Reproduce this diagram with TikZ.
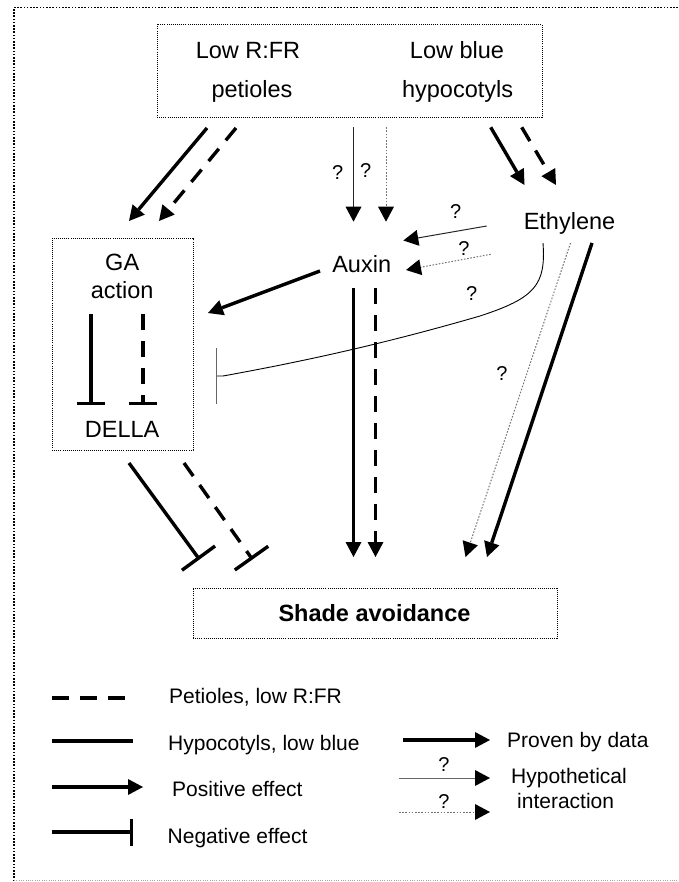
\documentclass[tikz,border=0pt]{standalone}
\usepackage{fontspec}
\setmainfont{Liberation Sans}
\usetikzlibrary{arrows.meta}
\tikzset{
  lbl/.style={inner sep=0pt, anchor=base, font=\fontsize{23.5}{28}\selectfont},
  lgd/.style={inner sep=0pt, anchor=base west, font=\fontsize{21}{25}\selectfont},
  qm/.style={inner sep=0pt, anchor=base, font=\fontsize{20}{24}\selectfont},
  dotbox/.style={draw, line width=0.9pt, dash pattern=on 0.9pt off 1.2pt},
  strong/.style={line width=3.4pt},
  dsh/.style={dash pattern=on 16pt off 11pt},
  hypline/.style={line width=1pt, draw=black!85},
  hypdot/.style={line width=1pt, draw=black!55, dash pattern=on 1.6pt off 1.6pt},
  posarrow/.style={-{Triangle[length=15pt,width=16pt,line width=0pt,color=black]}},
  negbig/.style={-{Bar[width=41pt]}},
  negsmall/.style={-{Bar[width=28pt]}},
}
\begin{document}
\begin{tikzpicture}[x=1pt,y=-1pt]
\useasboundingbox (0,0) rectangle (678,882);
% outer frame
\draw[line width=1.6pt, dash pattern=on 1.6pt off 1.6pt] (678,7.5) -- (14,7.5) -- (14,880);
\draw[line width=1pt, draw=black!35, dash pattern=on 1pt off 1.3pt] (14,880) -- (678,880);

% boxes
\node[dotbox, minimum width=385pt, minimum height=93pt, inner sep=0pt] (top) at (349.5,70.7) {};
\node[dotbox, minimum width=141pt, minimum height=212pt, inner sep=0pt] (gabox) at (122.5,344) {};
\node[dotbox, minimum width=364pt, minimum height=50pt, inner sep=0pt] (shbox) at (375,613) {};

% texts
\node[lbl] (lrfr) at (248,58.5) {Low R:FR};
\node[lbl] (pet) at (252,98) {petioles};
\node[lbl] (lblue) at (457,58.5) {Low blue};
\node[lbl] (hypo) at (457.6,98) {hypocotyls};
\node[lbl] (eth) at (569.5,230) {Ethylene};
\node[lbl] (aux) at (361.7,272.5) {Auxin};
\node[lbl] (ga) at (122.2,271) {GA};
\node[lbl] (act) at (122.2,298.5) {action};
\node[lbl] (della) at (122.2,437.5) {DELLA};
\node[lbl, font=\fontsize{23.5}{28}\selectfont\bfseries] (shade) at (374.5,621.5) {Shade avoidance};

% question marks
\node[qm] (q1) at (337.7,180) {?};
\node[qm] (q2) at (365.8,177.3) {?};
\node[qm] (q3) at (455.8,218.3) {?};
\node[qm] (q4) at (464,256) {?};
\node[qm] (q5) at (471.7,300) {?};
\node[qm] (q6) at (502,380) {?};

% coordinates
\coordinate (tGAs) at (207,128);   \coordinate (hGAs) at (129,221);
\coordinate (tGAd) at (236,128);   \coordinate (hGAd) at (159,221);
\coordinate (tAxs) at (353.5,127.3); \coordinate (hAxs) at (353.5,221.7);
\coordinate (tAxd) at (386,127.3); \coordinate (hAxd) at (386,221.7);
\coordinate (tEts) at (490.7,127.3); \coordinate (hEts) at (524.5,185);
\coordinate (tEtd) at (521.7,127.3); \coordinate (hEtd) at (556,185);
\coordinate (eAx1) at (486.7,226); \coordinate (hEA1) at (403.3,240.5);
\coordinate (eAx2) at (490.7,254.3); \coordinate (hEA2) at (406,270);
\coordinate (aGA) at (320,271);    \coordinate (hAG) at (208,313);
\coordinate (ecv) at (543,243);    \coordinate (cvb) at (216,376);
\coordinate (aS1) at (353.5,288);  \coordinate (hS1) at (353.5,557);
\coordinate (aS2) at (375.5,288);  \coordinate (hS2) at (375.5,557);
\coordinate (eS1) at (570.5,243);  \coordinate (hS3) at (465.5,557);
\coordinate (eS2) at (592,243);    \coordinate (hS4) at (487,557);
\coordinate (gs1) at (91,314);     \coordinate (gb1) at (91,405);
\coordinate (gs2) at (143,314);    \coordinate (gb2) at (143,405);
\coordinate (ds1) at (129,463);    \coordinate (db1) at (199.5,559.5);
\coordinate (ds2) at (184,463);    \coordinate (db2) at (252.5,559.5);

% top box arrows
\draw[strong, posarrow] (tGAs) -- (hGAs);
\draw[strong, dsh, posarrow] (tGAd) -- (hGAd);
\draw[hypline, posarrow] (tAxs) -- (hAxs);
\draw[hypdot, posarrow] (tAxd) -- (hAxd);
\draw[strong, posarrow] (tEts) -- (hEts);
\draw[strong, dsh, posarrow] (tEtd) -- (hEtd);

% ethylene -> auxin
\draw[hypline, posarrow] (eAx1) -- (hEA1);
\draw[hypdot, posarrow] (eAx2) -- (hEA2);

% auxin -> GA
\draw[strong, posarrow] (aGA) -- (hAG);

% ethylene -| GA (curve)
\draw[line width=0.9pt] (ecv) .. controls (546,285) and (535,298) .. (480,316)
   .. controls (380,345) and (300,362) .. (223,376) -- (cvb);
\draw[line width=1pt, draw=black!60] (216,348) -- (216,404);

% GA -| DELLA
\draw[line width=3.4pt, negsmall] (gs1) -- (gb1);
\draw[line width=3.4pt, dash pattern=on 16pt off 11pt, negsmall] (gs2) -- (gb2);

% DELLA -| shade
\draw[strong, negbig] (ds1) -- (db1);
\draw[strong, dsh, negbig] (ds2) -- (db2);

% auxin / ethylene -> shade
\draw[strong, posarrow] (aS1) -- (hS1);
\draw[strong, dsh, posarrow] (aS2) -- (hS2);
\draw[hypdot, posarrow] (eS1) -- (hS3);
\draw[strong, posarrow] (eS2) -- (hS4);

% legend
\coordinate (l1a) at (52,698); \coordinate (l1b) at (125,698);
\coordinate (l2a) at (52,741); \coordinate (l2b) at (133,741);
\coordinate (l3a) at (52,787); \coordinate (l3b) at (143,787);
\coordinate (l4a) at (52,832); \coordinate (l4b) at (133,832);
\coordinate (l5a) at (403,740); \coordinate (l5b) at (490,740);
\coordinate (l6a) at (399,778); \coordinate (l6b) at (490,778);
\coordinate (l7a) at (399,812); \coordinate (l7b) at (490,812);
\draw[line width=3.8pt, dash pattern=on 17pt off 11pt] (l1a) -- (l1b);
\draw[line width=3.8pt] (l2a) -- (l2b);
\draw[strong, posarrow] (l3a) -- (l3b);
\draw[strong, -{Bar[width=27pt]}] (l4a) -- (l4b);
\draw[strong, posarrow] (l5a) -- (l5b);
\draw[hypline, draw=black!60, posarrow] (l6a) -- (l6b);
\draw[hypdot, posarrow] (l7a) -- (l7b);

\node[lgd] (lg1) at (169,703) {Petioles, low R:FR};
\node[lgd] (lg2) at (168,750.5) {Hypocotyls, low blue};
\node[lgd] (lg3) at (172,796.5) {Positive effect};
\node[lgd] (lg4) at (167.5,843) {Negative effect};
\node[lgd] (lg5) at (507,747.5) {Proven by data};
\node[lgd] (lg6) at (511,783) {Hypothetical};
\node[lgd] (lg7) at (517,808) {interaction};
\node[qm] (q7) at (444,771.5) {?};
\node[qm] (q8) at (444,808) {?};
\end{tikzpicture}
\end{document}
